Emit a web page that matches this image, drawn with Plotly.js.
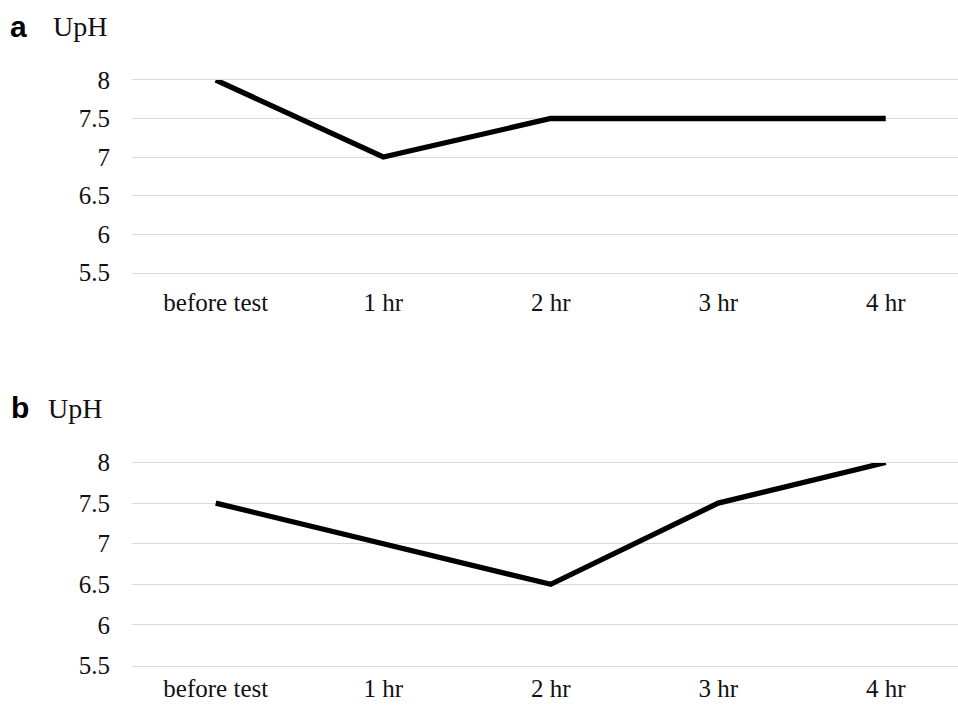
<!DOCTYPE html>
<html>
<head>
<meta charset="utf-8">
<script src="https://cdn.plot.ly/plotly-3.0.1.min.js"></script>
<style>html,body{margin:0;padding:0;background:#fff;}#chart{width:958px;height:706px;}</style>
</head>
<body>
<div id="chart"></div>
<script>
// ---- data ----
const categories = ['before test', '1 hr', '2 hr', '3 hr', '4 hr'];
const upHA = [8, 7, 7.5, 7.5, 7.5];
const upHB = [7.5, 7, 6.5, 7.5, 8];
const yTickVals = [5.5, 6, 6.5, 7, 7.5, 8];
const yTickText = ['5.5', '6', '6.5', '7', '7.5', '8'];
const panelLabels = ['a', 'b'];
const axisLabel = 'UpH';

// ---- layout helpers (pixels -> paper) ----
const W = 958, H = 706, L = 132, R = 0, T = 0, B = 0;
const PW = W - L - R, PH = H - T - B;
const px = x => (x - L) / PW;
const py = y => 1 - (y - T) / PH;
const catStep = 167.5;

const serif = 'Liberation Serif, Times New Roman, serif';
const gridColor = '#d9d9d9';
const textColor = '#111';

const traces = [
  {x: categories, y: upHA, xaxis: 'x', yaxis: 'y', type: 'scatter', mode: 'lines',
   line: {color: '#000', width: 5.3}, hoverinfo: 'skip'},
  {x: categories, y: upHB, xaxis: 'x2', yaxis: 'y2', type: 'scatter', mode: 'lines',
   line: {color: '#000', width: 5.3}, hoverinfo: 'skip'}
];

function yAxis(domain) {
  return {
    domain: domain, range: [5.5, 8], tickvals: yTickVals, ticktext: yTickText,
    showgrid: true, gridcolor: gridColor, gridwidth: 1, zeroline: false, showline: false,
    ticks: '', ticklabelstandoff: 21, fixedrange: true,
    tickfont: {family: serif, size: 25, color: textColor}
  };
}
function xAxis(anchor, standoff) {
  return {
    anchor: anchor, type: 'category', range: [-0.5, -0.5 + PW / catStep],
    showgrid: false, zeroline: false,
    showline: true, mirror: true, linecolor: gridColor, linewidth: 1,
    ticks: '', ticklabelstandoff: standoff, fixedrange: true,
    tickfont: {family: serif, size: 25, color: textColor}
  };
}

const layout = {
  width: W, height: H, margin: {l: L, r: R, t: T, b: B},
  paper_bgcolor: '#fff', plot_bgcolor: '#fff', showlegend: false,
  xaxis: xAxis('y', 7),
  yaxis: yAxis([py(272.5), py(80)]),
  xaxis2: xAxis('y2', 0),
  yaxis2: yAxis([py(665.5), py(462.5)]),
  annotations: [
    {text: '<b>' + panelLabels[0] + '</b>', xref: 'paper', yref: 'paper', x: px(8), y: py(27),
     xanchor: 'left', yanchor: 'middle', showarrow: false,
     font: {family: 'Liberation Sans, Arial, sans-serif', size: 30, color: '#000'}},
    {text: axisLabel, xref: 'paper', yref: 'paper', x: px(51), y: py(27),
     xanchor: 'left', yanchor: 'middle', showarrow: false,
     font: {family: serif, size: 28, color: textColor}},
    {text: '<b>' + panelLabels[1] + '</b>', xref: 'paper', yref: 'paper', x: px(9), y: py(407),
     xanchor: 'left', yanchor: 'middle', showarrow: false,
     font: {family: 'Liberation Sans, Arial, sans-serif', size: 30, color: '#000'}},
    {text: axisLabel, xref: 'paper', yref: 'paper', x: px(46), y: py(408),
     xanchor: 'left', yanchor: 'middle', showarrow: false,
     font: {family: serif, size: 28, color: textColor}}
  ]
};

Plotly.newPlot('chart', traces, layout, {displayModeBar: false, staticPlot: true});
</script>
</body>
</html>
